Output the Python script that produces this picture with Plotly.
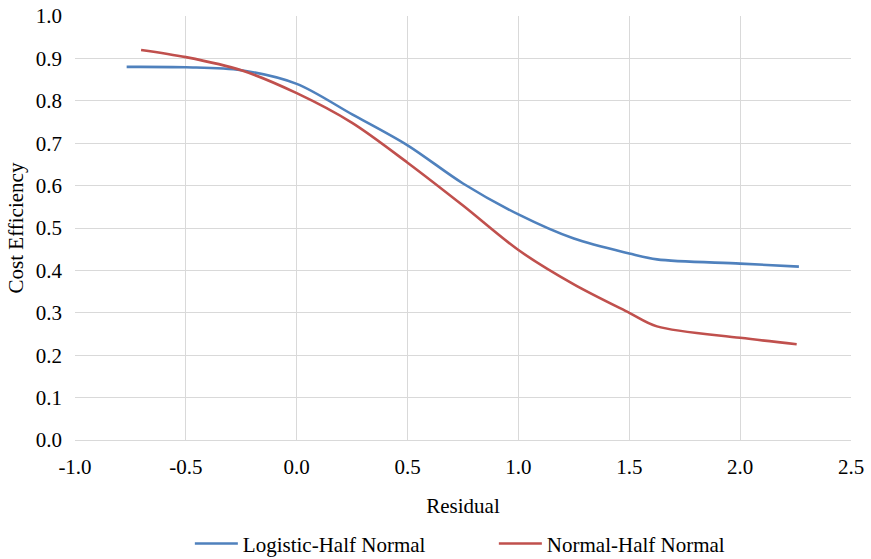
import plotly.graph_objects as go

logistic_x = [-0.767, -0.5, -0.25, 0.0, 0.25, 0.5, 0.75, 1.0, 1.25, 1.5, 1.625, 2.0, 2.265]
logistic_y = [0.880, 0.879, 0.872, 0.840, 0.768, 0.695, 0.605, 0.532, 0.475, 0.440, 0.426, 0.416, 0.409]

normal_x = [-0.702, -0.5, -0.25, 0.0, 0.25, 0.5, 0.75, 1.0, 1.25, 1.5, 1.625, 2.0, 2.255]
normal_y = [0.920, 0.903, 0.872, 0.818, 0.748, 0.654, 0.553, 0.448, 0.367, 0.300, 0.268, 0.241, 0.226]

x_ticks = [-1.0, -0.5, 0.0, 0.5, 1.0, 1.5, 2.0, 2.5]
y_ticks = [0.0, 0.1, 0.2, 0.3, 0.4, 0.5, 0.6, 0.7, 0.8, 0.9, 1.0]

font = "Liberation Serif, Times New Roman, serif"
fs = 21
fig = go.Figure()
fig.add_trace(go.Scatter(x=logistic_x, y=logistic_y, mode="lines", name="Logistic-Half Normal",
                         line=dict(color="#4f81bd", width=2.6, shape="spline", smoothing=0.9)))
fig.add_trace(go.Scatter(x=normal_x, y=normal_y, mode="lines", name="Normal-Half Normal",
                         line=dict(color="#c0504d", width=2.6, shape="spline", smoothing=0.9)))

fig.update_layout(
    width=871, height=559,
    margin=dict(l=75, r=20, t=16, b=119),
    paper_bgcolor="white", plot_bgcolor="white",
    font=dict(family=font, size=fs, color="#000000"),
    showlegend=True,
    legend=dict(orientation="h", xref="paper", x=0.148, xanchor="left",
                yref="container", y=0.027, yanchor="middle",
                font=dict(family=font, size=fs), itemwidth=43, entrywidth=246),
    xaxis=dict(range=[-1.0, 2.5], tickvals=x_ticks, ticktext=[f"{v:.1f}" for v in x_ticks],
               showgrid=True, gridcolor="#d9d9d9", gridwidth=1, zeroline=False,
               showline=True, linecolor="#d9d9d9", mirror=False, ticks="",
               ticklabelstandoff=8, automargin=False,
               title=dict(text="Residual", font=dict(family=font, size=fs), standoff=20)),
    yaxis=dict(range=[0.0, 1.0], tickvals=y_ticks, ticktext=[f"{v:.1f}" for v in y_ticks],
               showgrid=True, gridcolor="#d9d9d9", gridwidth=1, zeroline=False,
               showline=False, ticks="", ticklabelstandoff=12, automargin=False,
               title=dict(text="Cost Efficiency", font=dict(family=font, size=fs), standoff=6)),
)
fig.write_html("out.html")
